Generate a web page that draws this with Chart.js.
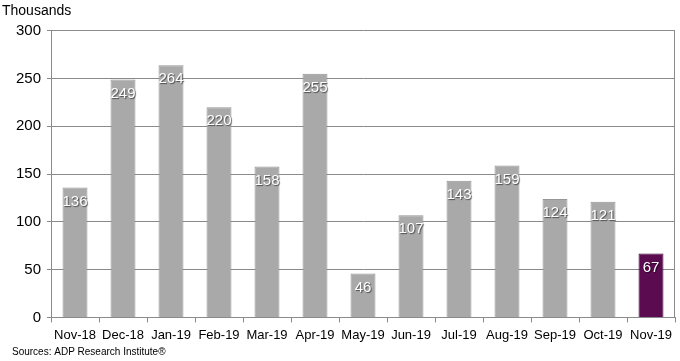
<!DOCTYPE html>
<html lang="en">
<head>
    <meta charset="UTF-8">
    <title>ADP employment change</title>
    <script src="https://cdn.jsdelivr.net/npm/chart.js"></script>
    <style>
        html, body { margin: 0; padding: 0; background: #fff; }
    </style>
</head>
<body>
    <canvas id="adpChart" width="680" height="361"></canvas>
    <script>
        const months = ['Nov-18', 'Dec-18', 'Jan-19', 'Feb-19', 'Mar-19', 'Apr-19', 'May-19',
            'Jun-19', 'Jul-19', 'Aug-19', 'Sep-19', 'Oct-19', 'Nov-19'];
        const jobs = [136, 249, 264, 220, 158, 255, 46, 107, 143, 159, 124, 121, 67];
        const yTicks = [0, 50, 100, 150, 200, 250, 300];
        const sourceNote = 'Sources: ADP Research Institute®';

        const barColors = jobs.map((v, i) => i === jobs.length - 1 ? '#5b0b4f' : '#a9a9a9');
        const borderColors = jobs.map((v, i) => i === jobs.length - 1 ? '#3d0035' : '#969696');

        // white value labels just inside the top of each bar
        const valueLabels = {
            id: 'valueLabels',
            afterDatasetsDraw(chart) {
                const ctx = chart.ctx;
                const meta = chart.getDatasetMeta(0);
                ctx.save();
                ctx.font = '15px Arial, "Liberation Sans", sans-serif';
                ctx.textAlign = 'center';
                ctx.textBaseline = 'middle';
                ctx.shadowColor = 'rgba(0,0,0,0.55)';
                ctx.shadowOffsetX = 1;
                ctx.shadowOffsetY = 1;
                ctx.shadowBlur = 1;
                ctx.fillStyle = '#ffffff';
                meta.data.forEach((bar, i) => {
                    ctx.fillText(jobs[i], bar.x, bar.y + 14);
                });
                ctx.restore();
            }
        };

        // right edge of the plot frame + source line at the bottom
        const frameAndSource = {
            id: 'frameAndSource',
            afterDraw(chart) {
                const a = chart.chartArea;
                const ctx = chart.ctx;
                ctx.save();
                ctx.strokeStyle = '#8a8a8a';
                ctx.lineWidth = 1;
                ctx.beginPath();
                ctx.moveTo(Math.round(a.right) - 0.5, a.top);
                ctx.lineTo(Math.round(a.right) - 0.5, a.bottom);
                ctx.stroke();
                ctx.fillStyle = '#000';
                ctx.font = '10px Arial, "Liberation Sans", sans-serif';
                ctx.textAlign = 'left';
                ctx.textBaseline = 'middle';
                ctx.fillText(sourceNote, 12, 352);
                ctx.restore();
            }
        };

        const ctx = document.getElementById('adpChart').getContext('2d');
        new Chart(ctx, {
            type: 'bar',
            data: {
                labels: months,
                datasets: [{
                    data: jobs,
                    backgroundColor: barColors,
                    borderColor: borderColors,
                    borderWidth: 1,
                    categoryPercentage: 1,
                    barPercentage: 0.52
                }]
            },
            options: {
                responsive: false,
                animation: false,
                devicePixelRatio: 1,
                layout: { padding: { left: 2, right: 5, top: 0, bottom: 13 } },
                plugins: {
                    legend: { display: false },
                    tooltip: { enabled: false },
                    title: {
                        display: true,
                        text: 'Thousands',
                        align: 'start',
                        color: '#000',
                        font: { family: 'Arial, "Liberation Sans", sans-serif', size: 14, weight: 'normal' },
                        padding: { top: 3, bottom: 11 }
                    }
                },
                scales: {
                    x: {
                        offset: true,
                        grid: {
                            display: true,
                            offset: true,
                            drawOnChartArea: false,
                            drawTicks: true,
                            tickLength: 5,
                            color: '#8a8a8a'
                        },
                        border: { color: '#8a8a8a' },
                        ticks: {
                            color: '#000',
                            padding: 5,
                            maxRotation: 0,
                            autoSkip: false,
                            font: { family: 'Arial, "Liberation Sans", sans-serif', size: 13 }
                        }
                    },
                    y: {
                        min: 0,
                        max: 300,
                        afterBuildTicks(axis) {
                            axis.ticks = yTicks.map(v => ({ value: v }));
                        },
                        afterFit(axis) {
                            axis.width = 49;
                        },
                        grid: {
                            color: '#8a8a8a',
                            tickLength: 4
                        },
                        border: { color: '#8a8a8a' },
                        ticks: {
                            color: '#000',
                            padding: 6,
                            autoSkip: false,
                            stepSize: 50,
                            font: { family: 'Arial, "Liberation Sans", sans-serif', size: 15 }
                        }
                    }
                }
            },
            plugins: [valueLabels, frameAndSource]
        });
    </script>
</body>
</html>
